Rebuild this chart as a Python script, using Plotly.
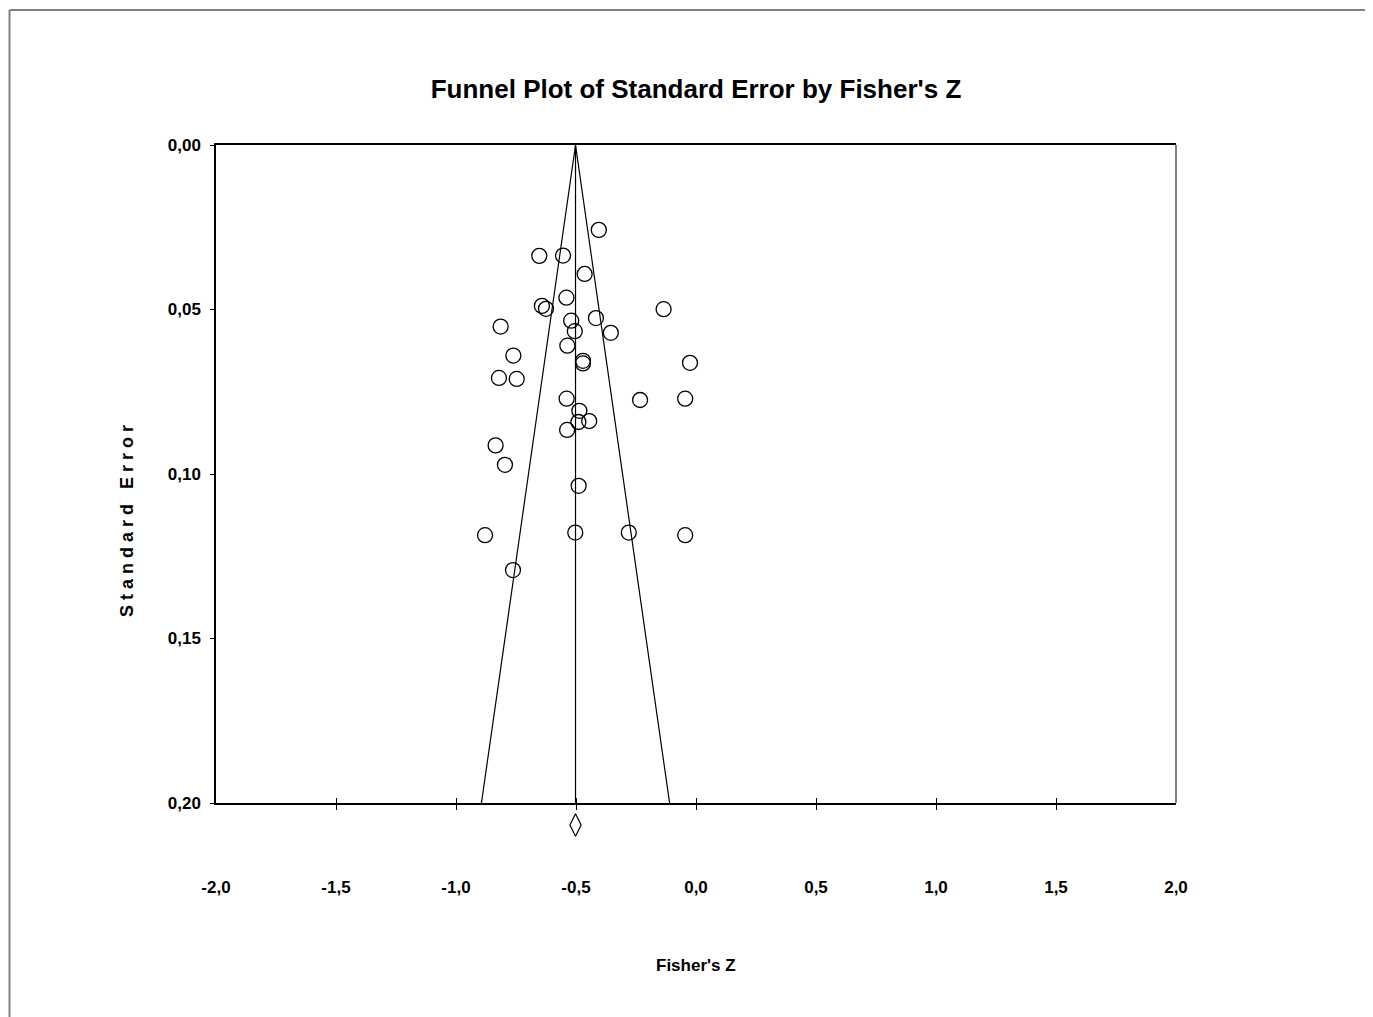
import plotly.graph_objects as go

# Study-level data
fisher_z = [-0.405, -0.653, -0.554, -0.464, -0.540, -0.642, -0.625, -0.135, -0.520, -0.417,
            -0.814, -0.505, -0.355, -0.536, -0.761, -0.471, -0.471, -0.025, -0.821, -0.747,
            -0.539, -0.233, -0.045, -0.486, -0.490, -0.445, -0.537, -0.835, -0.796, -0.489,
            -0.879, -0.503, -0.280, -0.045, -0.7625]
std_err = [0.0258, 0.0337, 0.0336, 0.0392, 0.0464, 0.0489, 0.0498, 0.0499, 0.0534, 0.0526,
           0.0552, 0.0566, 0.0571, 0.0610, 0.0640, 0.0656, 0.0664, 0.0662, 0.0708, 0.0711,
           0.0771, 0.0775, 0.0771, 0.0808, 0.0842, 0.0839, 0.0866, 0.0913, 0.0972, 0.1036,
           0.1186, 0.1178, 0.1178, 0.1186, 0.1292]

pooled_z = -0.502          # combined effect
pooled_marker_se = 0.2067  # where the summary diamond is drawn (below the axis)
z_crit = 1.96
se_max = 0.20

x_ticks = [-2.0, -1.5, -1.0, -0.5, 0.0, 0.5, 1.0, 1.5, 2.0]
y_ticks = [0.00, 0.05, 0.10, 0.15, 0.20]

FONT = "Liberation Sans Narrow, Arial Narrow, Liberation Sans, Arial"

# ---- layout geometry (figure pixels; the page body adds an 8px offset) ----
W, H = 1365, 1009
PX_L, PX_R = 208, 1168          # plot area left/right
PX_T, PX_B = 137, 795           # main axis top/bottom
PX_EXT = 50                     # extra strip under the axis for the summary diamond
L, R, T, B = PX_L, W - PX_R, PX_T, H - (PX_B + PX_EXT)
pw, ph = PX_R - PX_L, (PX_B + PX_EXT) - PX_T
d = PX_EXT / ph
se_per_px = se_max / (PX_B - PX_T)


def px_x(p):
    return (p - L) / pw


def px_y(p):
    return (H - B - p) / ph


fig = go.Figure()

# Funnel (pseudo 95% CI) lines
fig.add_trace(go.Scatter(
    x=[pooled_z - z_crit * se_max, pooled_z, pooled_z + z_crit * se_max],
    y=[se_max, 0, se_max],
    mode="lines", line=dict(color="black", width=1.2),
    hoverinfo="skip", showlegend=False))
# Vertical line at the pooled estimate
fig.add_trace(go.Scatter(
    x=[pooled_z, pooled_z], y=[0, se_max],
    mode="lines", line=dict(color="black", width=1.2),
    hoverinfo="skip", showlegend=False))
# Studies
fig.add_trace(go.Scatter(
    x=fisher_z, y=std_err, mode="markers",
    marker=dict(symbol="circle-open", size=15, color="black", line=dict(width=1.3)),
    showlegend=False))
# Summary diamond (on a continuation axis under the main one)
fig.add_trace(go.Scatter(
    x=[pooled_z], y=[pooled_marker_se], mode="markers", yaxis="y2",
    marker=dict(symbol="diamond-tall-open", size=16, color="black", line=dict(width=1.2)),
    hoverinfo="skip", showlegend=False))
# overlay axes for tick marks crossing the x axis (interior ticks only)
fig.add_trace(go.Scatter(x=[None], y=[None], xaxis="x2", showlegend=False, hoverinfo="skip"))
fig.add_trace(go.Scatter(x=[None], y=[None], xaxis="x3", showlegend=False, hoverinfo="skip"))

tickfont = dict(size=17, family=FONT, color="black")

fig.update_layout(
    width=W, height=H,
    margin=dict(l=L, r=R, t=T, b=B, pad=0),
    paper_bgcolor="white", plot_bgcolor="white",
    separators=",.",
    font=dict(family=FONT, color="black"),
    title=dict(text="<b>Funnel Plot of Standard Error by Fisher's Z</b>",
               x=(688) / W, xanchor="center", y=1 - 81 / H, yanchor="middle",
               font=dict(size=26, family=FONT, color="black")),
    xaxis=dict(range=[-2.0, 2.0], tickvals=x_ticks, anchor="y",
               ticktext=[f"<b>{v:.1f}</b>".replace(".", ",") for v in x_ticks],
               ticks="", ticklabelstandoff=68,
               showline=True, linecolor="black", linewidth=1.5, mirror=True,
               showgrid=False, zeroline=False, tickfont=tickfont),
    xaxis2=dict(range=[-2.0, 2.0], overlaying="x", side="bottom", anchor="y",
                tickvals=x_ticks[1:-1], showticklabels=False,
                ticks="inside", ticklen=5, tickwidth=1.2, tickcolor="black",
                showgrid=False, zeroline=False, showline=False),
    xaxis3=dict(range=[-2.0, 2.0], overlaying="x", side="bottom", anchor="y",
                tickvals=x_ticks[1:-1], showticklabels=False,
                ticks="outside", ticklen=6, tickwidth=1.2, tickcolor="black",
                showgrid=False, zeroline=False, showline=False),
    yaxis=dict(range=[se_max, 0.0], domain=[d, 1], tickvals=y_ticks,
               ticktext=[f"<b>{v:.2f}</b>".replace(".", ",") for v in y_ticks],
               ticks="outside", ticklen=4, tickwidth=1.2, tickcolor="black",
               ticklabelstandoff=6,
               showline=True, linecolor="black", linewidth=1.5, mirror=False,
               showgrid=False, zeroline=False, tickfont=tickfont),
    yaxis2=dict(range=[se_max + PX_EXT * se_per_px, se_max], domain=[0, d],
                anchor="x", visible=False, showgrid=False, zeroline=False),
    annotations=[
        dict(text="<b>Fisher's Z</b>", xref="paper", yref="paper",
             x=px_x(688), y=px_y(957), xanchor="center", yanchor="middle",
             showarrow=False, font=dict(size=17, family=FONT, color="black")),
        dict(text="<b>S t a n d a r d   E r r o r</b>", xref="paper", yref="paper",
             x=px_x(119), y=px_y(513), xanchor="center", yanchor="middle",
             textangle=-90, showarrow=False,
             font=dict(size=18, family=FONT, color="black")),
    ],
    shapes=[
        # right edge of plot frame (grey)
        dict(type="line", xref="paper", yref="paper", x0=1, x1=1, y0=d, y1=1,
             line=dict(color="#808080", width=2)),
        # outer page border (left and top)
        dict(type="line", xref="paper", yref="paper",
             x0=px_x(1.5), x1=px_x(1.5), y0=px_y(1015), y1=px_y(2),
             line=dict(color="#808080", width=2)),
        dict(type="line", xref="paper", yref="paper",
             x0=px_x(1.5), x1=px_x(1370), y0=px_y(2), y1=px_y(2),
             line=dict(color="#808080", width=2)),
    ],
)

fig.write_html("out.html")
